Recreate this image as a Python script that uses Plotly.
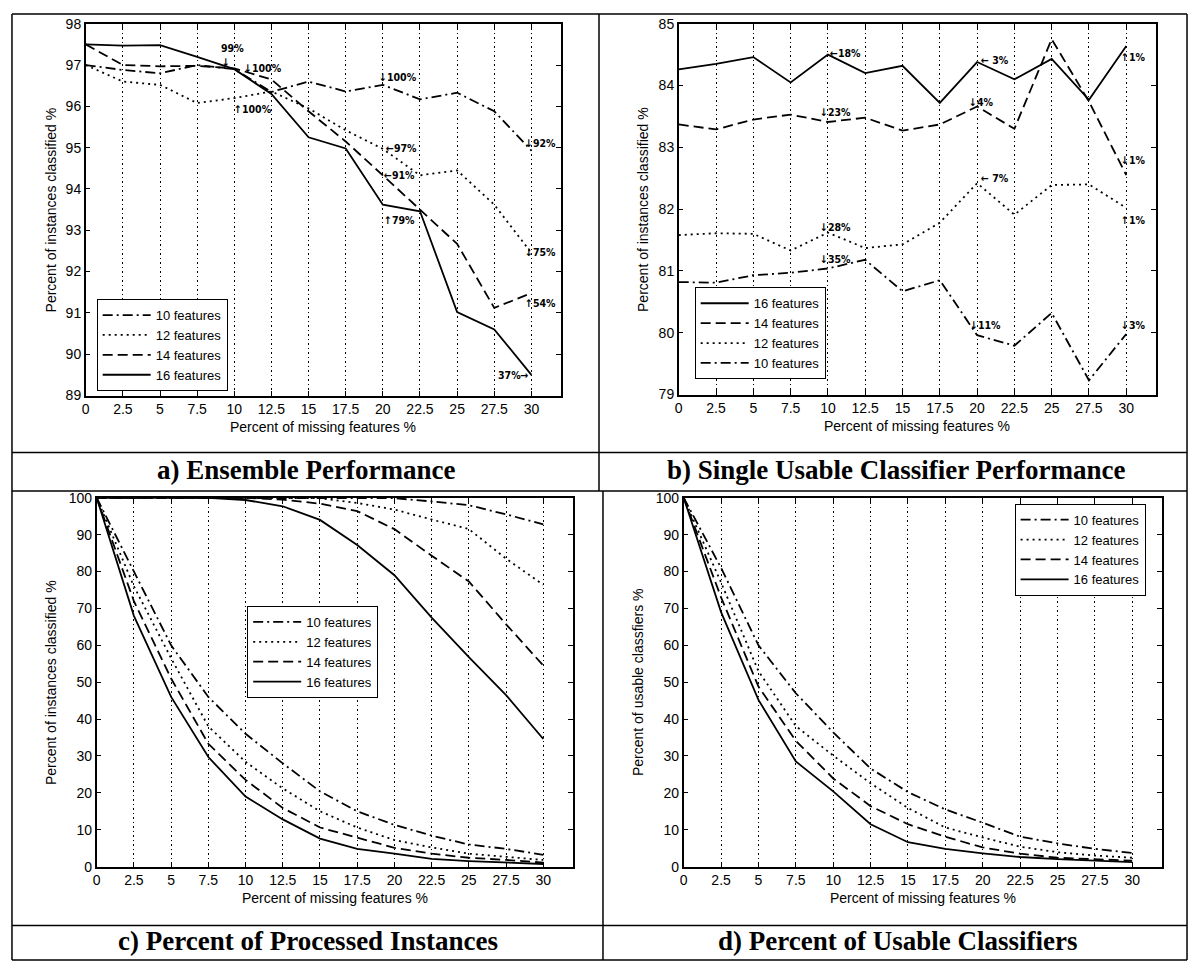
import plotly.graph_objects as go

W, H = 1192, 970

# ---------------- data ----------------
missing = [0, 2.5, 5, 7.5, 10, 12.5, 15, 17.5, 20, 22.5, 25, 27.5, 30]
xtick_labels = ["0", "2.5", "5", "7.5", "10", "12.5", "15", "17.5", "20", "22.5", "25", "27.5", "30"]
series_names = ["10 features", "12 features", "14 features", "16 features"]

# a) Ensemble performance
ens_10 = [97.0, 96.88, 96.8, 97.0, 96.9, 96.35, 96.6, 96.36, 96.52, 96.17, 96.33, 95.88, 94.93]
ens_12 = [97.0, 96.6, 96.52, 96.08, 96.2, 96.36, 95.95, 95.42, 94.97, 94.33, 94.45, 93.62, 92.45]
ens_14 = [97.5, 97.0, 96.97, 96.98, 96.92, 96.65, 95.88, 95.15, 94.33, 93.5, 92.67, 91.12, 91.48]
ens_16 = [97.5, 97.47, 97.48, 97.2, 96.9, 96.3, 95.25, 94.98, 93.62, 93.46, 91.02, 90.6, 89.5]

# b) Single usable classifier performance
sgl_16 = [84.26, 84.35, 84.46, 84.05, 84.5, 84.2, 84.32, 83.72, 84.38, 84.1, 84.43, 83.77, 84.64]
sgl_14 = [83.37, 83.29, 83.45, 83.53, 83.41, 83.48, 83.27, 83.37, 83.66, 83.3, 84.75, 83.74, 82.55]
sgl_12 = [81.58, 81.61, 81.6, 81.33, 81.62, 81.37, 81.43, 81.78, 82.42, 81.91, 82.39, 82.4, 82.02]
sgl_10 = [80.82, 80.81, 80.93, 80.97, 81.04, 81.18, 80.67, 80.85, 79.96, 79.79, 80.32, 79.23, 79.98]

# c) Percent of processed instances (lower and upper curve families)
proc_10 = [100, 80, 60, 46, 36, 28, 20.4, 15, 11.3, 8.4, 6, 4.8, 3.2]
proc_12 = [100, 76, 56.5, 38, 28.4, 21.2, 15, 10.6, 7.2, 5.2, 3.5, 2.7, 1.8]
proc_14 = [100, 72, 51, 33.3, 23.5, 15.9, 10.6, 7.9, 5.1, 3.5, 2.4, 1.8, 1.1]
proc_16 = [100, 68, 46, 29.7, 19, 12.8, 7.6, 4.8, 3.5, 2.1, 1.5, 1.1, 0.7]
proc_hi_10 = [100, 100, 100, 100, 100, 100, 100, 100, 99.9, 99, 98, 95.5, 92.8]
proc_hi_12 = [100, 100, 100, 100, 100, 100, 99.9, 98.6, 96.8, 94.1, 91.5, 83.5, 76.4]
proc_hi_14 = [100, 100, 100, 100, 100, 99.5, 98.4, 96.4, 91.5, 84.3, 77.3, 65.7, 54.5]
proc_hi_16 = [100, 100, 100, 100, 99.4, 97.7, 94, 87.2, 79, 67.5, 56.8, 46.5, 34.6]

# d) Percent of usable classifiers
use_10 = [100, 81, 60, 47, 36.4, 26.6, 20.2, 15.5, 11.9, 8.1, 6.3, 4.8, 3.7]
use_12 = [100, 77, 53, 38.1, 30.1, 22.6, 15.9, 10.6, 7.9, 5.4, 3.9, 3.0, 2.4]
use_14 = [100, 73, 48.8, 34.1, 23.9, 16.4, 11.5, 8.1, 5.2, 3.5, 2.4, 2.0, 1.6]
use_16 = [100, 69, 45.2, 28.5, 20.4, 11.5, 6.6, 4.8, 3.6, 2.6, 2.0, 1.6, 1.2]

# annotation labels (text, x, y, anchor)
ens_notes = [("99%", 9.9, 97.42, "center"), ("↓", 9.42, 97.08, "center"),
             ("↓100%", 10.55, 96.92, "left"), ("↑100%", 9.85, 95.93, "left"),
             ("↓100%", 19.6, 96.7, "left"), ("←97%", 20.05, 95.0, "left"),
             ("←91%", 19.95, 94.33, "left"), ("↑79%", 19.95, 93.26, "left"),
             ("↓92%", 29.45, 95.12, "left"), ("↓75%", 29.45, 92.47, "left"),
             ("↑54%", 29.45, 91.24, "left"), ("37%→", 30.0, 89.5, "right")]
sgl_notes = [("←18%", 10.0, 84.52, "left"), ("↓23%", 9.35, 83.57, "left"),
             ("↓28%", 9.35, 81.71, "left"), ("↓35%", 9.35, 81.2, "left"),
             ("← 3%", 20.1, 84.41, "left"), ("↓4%", 19.35, 83.73, "left"),
             ("← 7%", 20.1, 82.5, "left"), ("↓11%", 19.4, 80.12, "left"),
             ("↑1%", 29.5, 84.46, "left"), ("↓1%", 29.5, 82.79, "left"),
             ("↑1%", 29.5, 81.83, "left"), ("↓3%", 29.5, 80.12, "left")]

captions = ["a) Ensemble Performance", "b) Single Usable Classifier Performance",
            "c) Percent of Processed Instances", "d) Percent of Usable Classifiers"]

# ---------------- styles ----------------
SANS = "Liberation Sans, Arial, sans-serif"
NOTE = "DejaVu Sans Condensed, DejaVu Sans, sans-serif"
SERIF = "Liberation Serif, Times New Roman, serif"
dash_of = {"10 features": "10px,4px,2px,4px", "12 features": "2px,4px",
           "14 features": "10px,5px", "16 features": "solid"}


def px(x):
    return x / W


def py(y):
    return 1 - y / H


fig = go.Figure()


def add_series(name, ys, xa, ya, legend, show=True):
    fig.add_trace(go.Scatter(
        x=missing, y=ys, mode="lines", name=name,
        line=dict(color="black", width=1.8, dash=dash_of[name]),
        xaxis=xa, yaxis=ya, legend=legend, showlegend=show))


# panel a
for n, ys in zip(series_names, [ens_10, ens_12, ens_14, ens_16]):
    add_series(n, ys, "x", "y", "legend")
# panel b (legend order 16,14,12,10)
for n, ys in zip(series_names[::-1], [sgl_16, sgl_14, sgl_12, sgl_10]):
    add_series(n, ys, "x2", "y2", "legend2")
# panel c
for n, ys in zip(series_names, [proc_10, proc_12, proc_14, proc_16]):
    add_series(n, ys, "x3", "y3", "legend3")
for n, ys in zip(series_names, [proc_hi_10, proc_hi_12, proc_hi_14, proc_hi_16]):
    add_series(n, ys, "x3", "y3", "legend3", show=False)
# panel d
for n, ys in zip(series_names, [use_10, use_12, use_14, use_16]):
    add_series(n, ys, "x4", "y4", "legend4")

# ---------------- axes ----------------
panels = {  # left, right, top, bottom in px
    1: (82, 559, 16, 394),
    2: (677, 1156, 16, 393),
    3: (93, 571, 498, 873),
    4: (682, 1162, 498, 873),
}
yranges = {1: [89, 98], 2: [79, 85], 3: [0, 100], 4: [0, 100]}
ydticks = {1: 1, 2: 1, 3: 10, 4: 10}

common = dict(showline=True, linecolor="black", linewidth=1.5, mirror="ticks",
              ticks="inside", ticklen=5, tickwidth=1, tickcolor="black",
              tickfont=dict(family=SANS, size=14, color="black"), zeroline=False)

layout = {}
for i, (l, r, t, b) in panels.items():
    sfx = "" if i == 1 else str(i)
    layout["xaxis" + sfx] = dict(domain=[px(l), px(r)], anchor="y" + sfx, range=[0, 32],
                                 tickmode="array", tickvals=missing, ticktext=xtick_labels,
                                 showgrid=True, gridcolor="black", griddash="1.5px,3px",
                                 gridwidth=1, **common)
    layout["yaxis" + sfx] = dict(domain=[py(b), py(t)], anchor="x" + sfx, range=yranges[i],
                                 dtick=ydticks[i], tick0=0, showgrid=False, **common)
fig.update_layout(**layout)

# legends
leg_common = dict(xanchor="left", yanchor="top", bordercolor="black", borderwidth=1,
                  bgcolor="white", font=dict(family=SANS, size=13, color="black"),
                  tracegroupgap=0, itemclick=False, itemwidth=48)
fig.update_layout(
    legend=dict(x=px(93), y=py(296), **leg_common),
    legend2=dict(x=px(693), y=py(284), **leg_common),
    legend3=dict(x=px(244), y=py(608), **leg_common),
    legend4=dict(x=px(1014), y=py(504), **leg_common),
)

annotations = []
# data annotations
for txt, x, y, anc in ens_notes:
    annotations.append(dict(text="<b>%s</b>" % txt, x=x, y=y, xref="x", yref="y",
                            xanchor=anc, yanchor="middle", showarrow=False,
                            font=dict(family=NOTE, size=10.5, color="black")))
for txt, x, y, anc in sgl_notes:
    annotations.append(dict(text="<b>%s</b>" % txt, x=x, y=y, xref="x2", yref="y2",
                            xanchor=anc, yanchor="middle", showarrow=False,
                            font=dict(family=NOTE, size=10.5, color="black")))

# axis titles
xt = "Percent of missing features %"
for (l, r, t, b), ty in zip(panels.values(), [426, 425, 905, 905]):
    annotations.append(dict(text=xt, x=px((l + r) / 2), y=py(ty), xref="paper", yref="paper",
                            showarrow=False, xanchor="center", yanchor="middle",
                            font=dict(family=SANS, size=14, color="black")))
ytitles = ["Percent of instances classified %", "Percent of instances classified %",
           "Percent of instances classified %", "Percent of usable classfiers %"]
for (l, r, t, b), tx, txt in zip(panels.values(), [47, 641, 47, 636], ytitles):
    annotations.append(dict(text=txt, x=px(tx), y=py((t + b) / 2), xref="paper", yref="paper",
                            showarrow=False, textangle=-90, xanchor="center", yanchor="middle",
                            font=dict(family=SANS, size=14, color="black")))

# captions
for txt, cx, cy in zip(captions, [303, 895, 305, 897], [470, 470, 949, 949]):
    annotations.append(dict(text="<b>%s</b>" % txt, x=px(cx), y=py(cy), xref="paper", yref="paper",
                            showarrow=False, xanchor="center", yanchor="middle",
                            font=dict(family=SERIF, size=27, color="black")))
fig.update_layout(annotations=annotations)

# table frame
shapes = []
def hline(y, x0, x1):
    shapes.append(dict(type="line", xref="paper", yref="paper", x0=px(x0), x1=px(x1),
                       y0=py(y), y1=py(y), line=dict(color="black", width=1.5)))
def vline(x, y0, y1):
    shapes.append(dict(type="line", xref="paper", yref="paper", x0=px(x), x1=px(x),
                       y0=py(y0), y1=py(y1), line=dict(color="black", width=1.5)))
hline(6, 8, 1187)
hline(452, 8, 1187)
hline(491, 8, 1187)
hline(933, 8, 1187)
hline(968, 8, 1187)
vline(8, 6, 968)
vline(1187, 6, 968)
vline(597, 6, 491)
vline(601, 491, 968)
fig.update_layout(shapes=shapes)

fig.update_layout(width=W, height=H, margin=dict(l=0, r=0, t=0, b=0),
                  paper_bgcolor="white", plot_bgcolor="white")

fig.write_html("out.html")
